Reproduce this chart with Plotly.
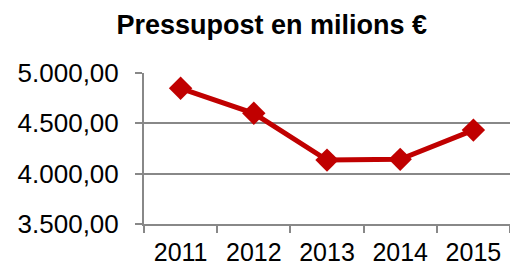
import plotly.graph_objects as go

years = ["2011", "2012", "2013", "2014", "2015"]
budget = [4848, 4600, 4135, 4142, 4433]
y_ticks = [3500, 4000, 4500, 5000]

fig = go.Figure()
fig.add_trace(go.Scatter(
    x=years, y=budget, mode="lines+markers",
    line=dict(color="#C00000", width=5),
    marker=dict(symbol="diamond", size=18, color="#C00000"),
    showlegend=False,
))

fig.update_layout(
    width=510, height=267,
    margin=dict(l=144, r=0, t=73, b=43),
    paper_bgcolor="white", plot_bgcolor="white",
    separators=",.",
    font=dict(family="Liberation Sans, Arial, sans-serif", color="black"),
    title=dict(text="<b>Pressupost en milions €</b>", x=0.533, xanchor="center",
               y=0.945, yanchor="top", font=dict(size=27)),
    xaxis=dict(type="category", range=[-0.5, len(years) - 0.5],
               tickson="boundaries", ticks="outside", ticklen=7,
               tickcolor="#888888", tickwidth=2, showgrid=False, automargin=False,
               showline=True, linecolor="#888888", linewidth=2,
               tickfont=dict(size=25), ticklabelstandoff=5),
    yaxis=dict(range=[3500, 5000], tickvals=y_ticks, tickformat=",.2f",
               ticks="outside", ticklen=7, tickcolor="#888888", tickwidth=2,
               showgrid=True, gridcolor="#888888", gridwidth=2, automargin=False,
               showline=True, linecolor="#888888", linewidth=2,
               zeroline=False, tickfont=dict(size=26), ticklabelstandoff=11),
)

fig.write_html("out.html", config={"displayModeBar": False},
               post_script="document.body.style.margin='0px';")
